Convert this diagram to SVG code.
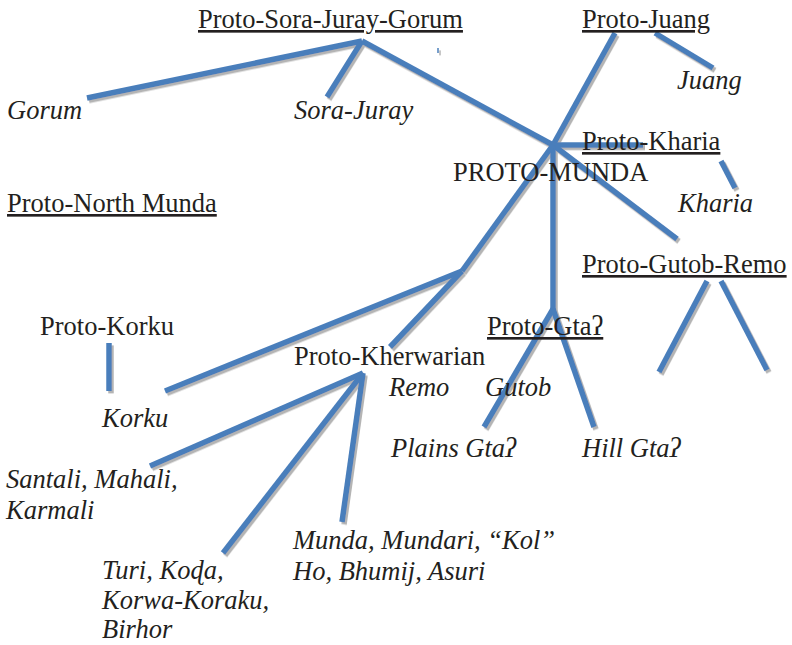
<svg xmlns="http://www.w3.org/2000/svg" width="792" height="645" viewBox="0 0 792 645">
  <style>
    text { font-family: "Liberation Serif", "Times New Roman", serif; font-size: 26.5px; fill: #231f20; }
    .it { font-style: italic; }
    .ul { text-decoration: underline; }
    .edge { stroke: #4a7ebb; stroke-width: 5.5; stroke-linecap: butt; fill: none; }
  </style>
  <defs>
    <filter id="shadow" x="-10%" y="-10%" width="130%" height="130%">
      <feDropShadow dx="2" dy="2.4" stdDeviation="0.5" flood-color="#b4b4b4" flood-opacity="1"/>
    </filter>
  </defs>
  <rect width="792" height="645" fill="#ffffff"/>

  <!-- tree branches -->
  <g id="connectors" filter="url(#shadow)">
    <line class="edge" x1="87" y1="98" x2="362" y2="41"/>
    <line class="edge" x1="362" y1="41" x2="327" y2="97"/>
    <line class="edge" x1="362" y1="41" x2="553" y2="145"/>
    <line class="edge" x1="615" y1="33" x2="553" y2="145"/>
    <line class="edge" x1="655" y1="33" x2="713" y2="68"/>
    <line class="edge" x1="553" y1="145" x2="643" y2="145"/>
    <line class="edge" x1="721" y1="161" x2="735" y2="188"/>
    <line class="edge" x1="553" y1="145" x2="677" y2="239"/>
    <line class="edge" x1="553" y1="145" x2="553" y2="309"/>
    <line class="edge" x1="553" y1="309" x2="484" y2="427"/>
    <line class="edge" x1="553" y1="309" x2="594" y2="427"/>
    <line class="edge" x1="553" y1="145" x2="462" y2="271"/>
    <line class="edge" x1="462" y1="271" x2="165" y2="391"/>
    <line class="edge" x1="462" y1="271" x2="390" y2="347"/>
    <line class="edge" x1="109" y1="343" x2="109" y2="391"/>
    <line class="edge" x1="363" y1="373" x2="150" y2="466"/>
    <line class="edge" x1="363" y1="373" x2="223" y2="553"/>
    <line class="edge" x1="363" y1="373" x2="342" y2="522"/>
    <line class="edge" x1="707" y1="281" x2="659" y2="372"/>
    <line class="edge" x1="721" y1="281" x2="767" y2="370"/>
    <line x1="438" y1="48" x2="438" y2="53" stroke="#4a7ebb" stroke-width="1.5"/>
  </g>

  <g id="proto-sora-juray-gorum"><text class="ul" x="198" y="28">Proto-Sora-Juray-Gorum</text></g>
  <g id="proto-juang"><text class="ul" x="582" y="28">Proto-Juang</text></g>
  <g id="juang"><text class="it" x="677" y="89">Juang</text></g>
  <g id="gorum"><text class="it" x="7" y="119">Gorum</text></g>
  <g id="sora-juray"><text class="it" x="294" y="119">Sora-Juray</text></g>
  <g id="proto-kharia"><text class="ul" x="582" y="150">Proto-Kharia</text></g>
  <g id="proto-munda"><text x="453" y="181">PROTO-MUNDA</text></g>
  <g id="kharia"><text class="it" x="678" y="212">Kharia</text></g>
  <g id="proto-north-munda"><text class="ul" x="7" y="212">Proto-North Munda</text></g>
  <g id="proto-gutob-remo"><text class="ul" x="582" y="273">Proto-Gutob-Remo</text></g>
  <g id="proto-korku"><text x="40" y="335">Proto-Korku</text></g>
  <g id="proto-gta"><text class="ul" x="487" y="335">Proto-Gtaʔ</text></g>
  <g id="proto-kherwarian"><text x="294" y="365">Proto-Kherwarian</text></g>
  <g id="remo"><text class="it" x="389" y="396">Remo</text></g>
  <g id="gutob"><text class="it" x="485" y="396">Gutob</text></g>
  <g id="korku"><text class="it" x="102" y="427">Korku</text></g>
  <g id="plains-gta"><text class="it" x="391" y="457">Plains Gtaʔ</text></g>
  <g id="hill-gta"><text class="it" x="582" y="457">Hill Gtaʔ</text></g>
  <g id="santali"><text class="it" x="6" y="488">Santali, Mahali,</text><text class="it" x="6" y="519">Karmali</text></g>
  <g id="munda"><text class="it" x="293" y="549">Munda, Mundari, “Kol”</text><text class="it" x="293" y="580">Ho, Bhumij, Asuri</text></g>
  <g id="turi"><text class="it" x="102" y="579">Turi, Koɖa,</text><text class="it" x="102" y="609">Korwa-Koraku,</text><text class="it" x="102" y="638">Birhor</text></g>
</svg>
